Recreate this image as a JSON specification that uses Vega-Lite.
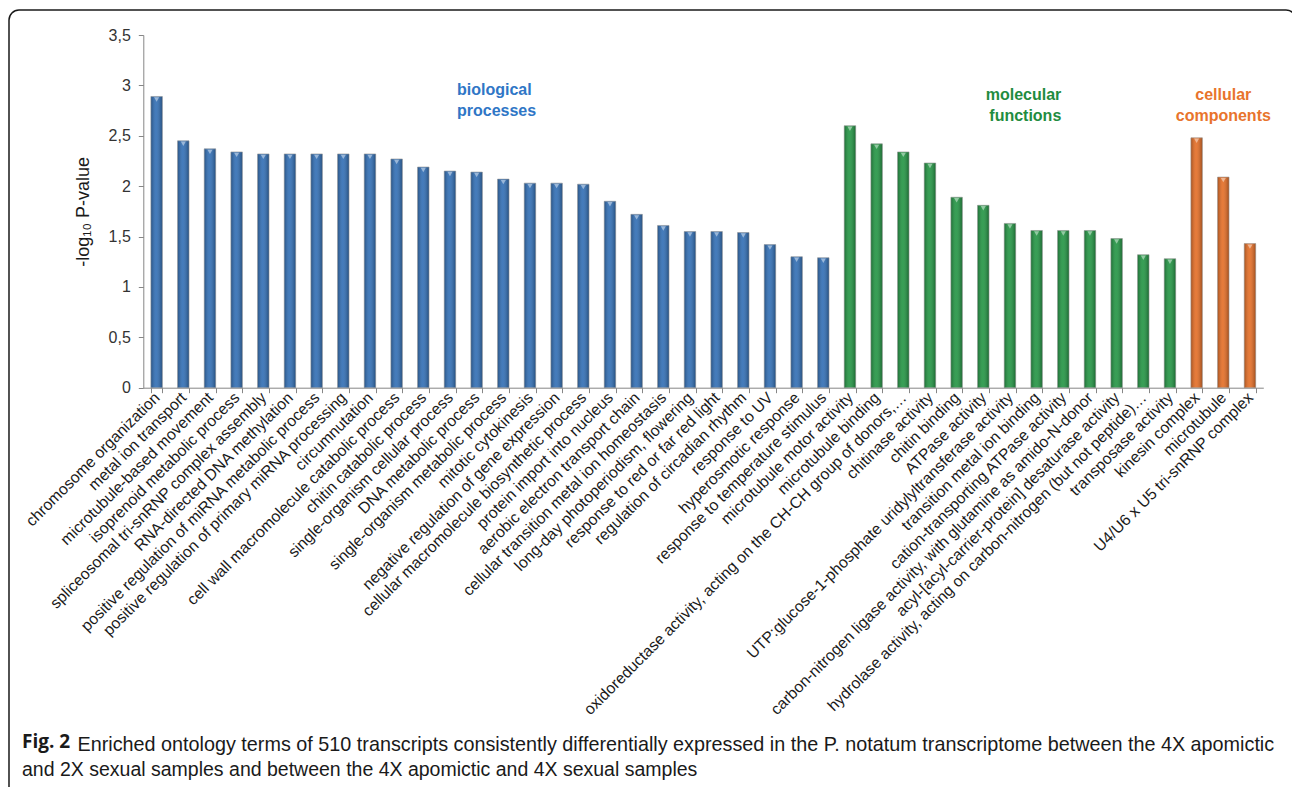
{
  "$schema": "https://vega.github.io/schema/vega-lite/v6.json",
  "autosize": {"type": "none"},
  "padding": {"left": 9, "top": 10, "right": 0, "bottom": 0},
  "width": 1287,
  "height": 790,
  "background": "white",
  "config": {
    "view": {"stroke": "#1a1a1a", "strokeWidth": 1.5, "cornerRadius": 10},
    "font": "Liberation Sans"
  },
  "title": {
    "text": "Fig. 2",
    "subtitle": "and 2X sexual samples and between the 4X apomictic and 4X sexual samples",
    "orient": "bottom",
    "anchor": "start",
    "frame": "group",
    "offset": -67,
    "dx": 13,
    "font": "Open Sans",
    "fontSize": 19,
    "fontWeight": "bold",
    "color": "#1a1a1a",
    "subtitleFont": "Liberation Sans",
    "subtitleFontSize": 19.5,
    "subtitleColor": "#1a1a1a",
    "subtitlePadding": 9
  },
  "datasets": {
    "terms": [
      {"term": "chromosome organization", "value": 2.89, "group": "biological processes"},
      {"term": "metal ion transport", "value": 2.45, "group": "biological processes"},
      {"term": "microtubule-based movement", "value": 2.37, "group": "biological processes"},
      {"term": "isoprenoid metabolic process", "value": 2.34, "group": "biological processes"},
      {"term": "spliceosomal tri-snRNP complex assembly", "value": 2.32, "group": "biological processes"},
      {"term": "RNA-directed DNA methylation", "value": 2.32, "group": "biological processes"},
      {"term": "positive regulation of miRNA metabolic process", "value": 2.32, "group": "biological processes"},
      {"term": "positive regulation of primary miRNA processing", "value": 2.32, "group": "biological processes"},
      {"term": "circumnutation", "value": 2.32, "group": "biological processes"},
      {"term": "cell wall macromolecule catabolic process", "value": 2.27, "group": "biological processes"},
      {"term": "chitin catabolic process", "value": 2.19, "group": "biological processes"},
      {"term": "single-organism cellular process", "value": 2.15, "group": "biological processes"},
      {"term": "DNA metabolic process", "value": 2.14, "group": "biological processes"},
      {"term": "single-organism metabolic process", "value": 2.07, "group": "biological processes"},
      {"term": "mitotic cytokinesis", "value": 2.03, "group": "biological processes"},
      {"term": "negative regulation of gene expression", "value": 2.03, "group": "biological processes"},
      {"term": "cellular macromolecule biosynthetic process", "value": 2.02, "group": "biological processes"},
      {"term": "protein import into nucleus", "value": 1.85, "group": "biological processes"},
      {"term": "aerobic electron transport chain", "value": 1.72, "group": "biological processes"},
      {"term": "cellular transition metal ion homeostasis", "value": 1.61, "group": "biological processes"},
      {"term": "long-day photoperiodism, flowering", "value": 1.55, "group": "biological processes"},
      {"term": "response to red or far red light", "value": 1.55, "group": "biological processes"},
      {"term": "regulation of circadian rhythm", "value": 1.54, "group": "biological processes"},
      {"term": "response to UV", "value": 1.42, "group": "biological processes"},
      {"term": "hyperosmotic response", "value": 1.3, "group": "biological processes"},
      {"term": "response to temperature stimulus", "value": 1.29, "group": "biological processes"},
      {"term": "microtubule motor activity", "value": 2.6, "group": "molecular functions"},
      {"term": "microtubule binding", "value": 2.42, "group": "molecular functions"},
      {"term": "oxidoreductase activity, acting on the CH-CH group of donors,…", "value": 2.34, "group": "molecular functions"},
      {"term": "chitinase activity", "value": 2.23, "group": "molecular functions"},
      {"term": "chitin binding", "value": 1.89, "group": "molecular functions"},
      {"term": "ATPase activity", "value": 1.81, "group": "molecular functions"},
      {"term": "UTP:glucose-1-phosphate uridylyltransferase activity", "value": 1.63, "group": "molecular functions"},
      {"term": "transition metal ion binding", "value": 1.56, "group": "molecular functions"},
      {"term": "cation-transporting ATPase activity", "value": 1.56, "group": "molecular functions"},
      {"term": "carbon-nitrogen ligase activity, with glutamine as amido-N-donor", "value": 1.56, "group": "molecular functions"},
      {"term": "acyl-[acyl-carrier-protein] desaturase activity", "value": 1.48, "group": "molecular functions"},
      {"term": "hydrolase activity, acting on carbon-nitrogen (but not peptide)…", "value": 1.32, "group": "molecular functions"},
      {"term": "transposase activity", "value": 1.28, "group": "molecular functions"},
      {"term": "kinesin complex", "value": 2.48, "group": "cellular components"},
      {"term": "microtubule", "value": 2.09, "group": "cellular components"},
      {"term": "U4/U6 x U5 tri-snRNP complex", "value": 1.43, "group": "cellular components"}
    ],
    "notes": [
      {"term": "single-organism cellular process", "value": 2.95, "group": "biological processes", "label": "biological\nprocesses"},
      {"term": "cation-transporting ATPase activity", "value": 2.9, "group": "molecular functions", "label": "molecular\nfunctions"},
      {"term": "microtubule", "value": 2.9, "group": "cellular components", "label": "cellular\ncomponents"}
    ]
  },
  "encoding": {
    "x": {
      "field": "term",
      "type": "nominal",
      "sort": null,
      "scale": {"range": [134.3, 1254.3], "paddingInner": 0.57, "paddingOuter": 0.285},
      "axis": {
        "title": "Enriched ontology terms of 510 transcripts consistently differentially expressed in the P. notatum transcriptome between the 4X apomictic",
        "titleX": 68,
        "titleY": 362.3,
        "titleAlign": "left",
        "titleBaseline": "alphabetic",
        "titleAngle": 0,
        "titleFont": "Liberation Sans",
        "titleFontSize": 19.8,
        "titleFontWeight": "normal",
        "titleColor": "#1a1a1a",
        "offset": -412.3,
        "domainColor": "#868686",
        "tickColor": "#868686",
        "tickSize": 5,
        "tickBand": "extent",
        "labelAngle": -45,
        "labelAlign": "right",
        "labelBaseline": "middle",
        "labelFontSize": 15.8,
        "labelColor": "#1a1a1a",
        "labelPadding": 2,
        "labelLimit": 1000,
        "labelOverlap": false
      }
    },
    "y": {
      "field": "value",
      "type": "quantitative",
      "scale": {"domain": [0, 3.5], "range": [377.7, 25], "nice": false},
      "axis": {
        "title": "-log₁₀ P-value",
        "titleFontSize": 18,
        "titleFontWeight": "normal",
        "titleColor": "#1a1a1a",
        "titlePadding": 16,
        "offset": -134.3,
        "values": [0, 0.5, 1, 1.5, 2, 2.5, 3, 3.5],
        "labelExpr": "replace(format(datum.value, '~g'), '.', ',')",
        "labelFontSize": 16,
        "labelColor": "#333333",
        "labelPadding": 8,
        "domainColor": "#868686",
        "tickColor": "#868686",
        "tickSize": 5,
        "grid": false
      }
    }
  },
  "layer": [
    {
      "data": {"name": "terms"},
      "mark": {"type": "bar"},
      "encoding": {
        "color": {
          "field": "group",
          "type": "nominal",
          "scale": {
            "domain": ["biological processes", "molecular functions", "cellular components"],
            "range": ["#2f6db4", "#219442", "#e46c23"]
          },
          "legend": null
        }
      }
    },
    {
      "data": {"name": "terms"},
      "mark": {
        "type": "bar",
        "stroke": "#9a9a9a",
        "strokeWidth": 0.6,
        "color": {
          "gradient": "linear",
          "x1": 0, "x2": 1, "y1": 0, "y2": 0,
          "stops": [
            {"offset": 0, "color": "rgba(0,0,0,0.28)"},
            {"offset": 0.45, "color": "rgba(255,255,255,0.1)"},
            {"offset": 1, "color": "rgba(0,0,0,0.3)"}
          ]
        }
      }
    },
    {
      "data": {"name": "terms"},
      "mark": {"type": "point", "shape": "triangle-down", "filled": true, "color": "white", "opacity": 0.45, "size": 26, "yOffset": 3}
    },
    {
      "data": {"name": "notes"},
      "transform": [{"filter": "datum.group === 'biological processes'"}],
      "mark": {"type": "text", "align": "left", "baseline": "middle", "dx": 7, "lineBreak": "\n", "lineHeight": 21, "fontSize": 16, "fontWeight": "bold", "font": "Liberation Sans", "color": "#2f76c6"},
      "encoding": {"text": {"field": "label"}}
    },
    {
      "data": {"name": "notes"},
      "transform": [{"filter": "datum.group === 'molecular functions'"}],
      "mark": {"type": "text", "align": "right", "baseline": "middle", "dx": -2, "lineBreak": "\n", "lineHeight": 21, "fontSize": 16, "fontWeight": "bold", "font": "Liberation Sans", "color": "#1f8c40"},
      "encoding": {"text": {"field": "label"}}
    },
    {
      "data": {"name": "notes"},
      "transform": [{"filter": "datum.group === 'cellular components'"}],
      "mark": {"type": "text", "align": "center", "baseline": "middle", "dx": 0, "lineBreak": "\n", "lineHeight": 21, "fontSize": 16, "fontWeight": "bold", "font": "Liberation Sans", "color": "#e8742c"},
      "encoding": {"text": {"field": "label"}}
    }
  ]
}
